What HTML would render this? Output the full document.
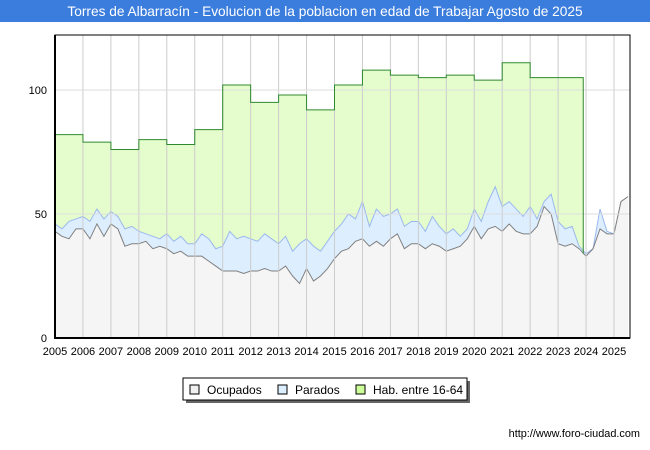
<!DOCTYPE html>
<html><head><meta charset="utf-8"><style>
body{margin:0;background:#fff;font-family:"Liberation Sans",sans-serif}
svg{display:block}
</style></head><body>
<svg id="c" width="650" height="450" xmlns="http://www.w3.org/2000/svg">
<rect x="0" y="0" width="650" height="22" fill="#3b7ddd"/>
<text x="325" y="16" text-anchor="middle" fill="#fff" font-size="13.7">Torres de Albarracín - Evolucion de la poblacion en edad de Trabajar Agosto de 2025</text>
<g id="plot"></g>
<text x="640" y="437" text-anchor="end" font-size="10.9" fill="#000">http://www.foro-ciudad.com</text>
</svg>
<script>
const years=[2005,2006,2007,2008,2009,2010,2011,2012,2013,2014,2015,2016,2017,2018,2019,2020,2021,2022,2023];
const hab=[82,79,76,80,78,84,102,95,98,92,102,108,106,105,106,104,111,105,105];
const parados=[46,44,47,48,49,47,52,48,51,49,44,45,43,42,41,40,42,39,41,38,38,42,40,36,37,43,40,41,40,39,42,40,38,41,35,38,40,37,35,39,43,46,50,48,55,45,52,49,50,52,45,47,47,43,49,45,42,44,41,44,52,47,55,61,53,55,52,49,53,48,55,58,47,44,45,37,34,36,52,43,42,55,57];
const ocupados=[43,41,40,44,44,40,46,41,46,44,37,38,38,39,36,37,36,34,35,33,33,33,31,29,27,27,27,26,27,27,28,27,27,29,25,22,28,23,25,28,32,35,36,39,40,37,39,37,40,42,36,38,38,36,38,37,35,36,37,40,45,40,44,45,43,46,43,42,42,45,53,50,38,37,38,36,33,36,44,42,42,55,57];
const yTicks=[0,50,100];
const L=55,R=630,T=35,B=338;
const X=t=>L+(t-2005)*27.95;
const Y=v=>B-v*2.48;
const NS="http://www.w3.org/2000/svg";
const g=document.getElementById('plot');
function mk(tag,attrs){const e=document.createElementNS(NS,tag);for(const k in attrs)e.setAttribute(k,attrs[k]);g.appendChild(e);return e;}
const tq=i=>2005+i*0.25;
const habEnd=2023.9;
let hp=`M${X(2005)},${B}`;
years.forEach((yr,i)=>{const x2=i<years.length-1?X(yr+1):X(habEnd);hp+=` L${X(yr)},${Y(hab[i])} L${x2},${Y(hab[i])}`;});
hp+=` L${X(habEnd)},${B} Z`;
let e=mk('path',{d:hp,fill:'#e5fdcc',stroke:'none'});

let hl=`M${X(2005)},${Y(hab[0])}`;
years.forEach((yr,i)=>{const x2=i<years.length-1?X(yr+1):X(habEnd);hl+=` L${X(yr)},${Y(hab[i])} L${x2},${Y(hab[i])}`;});
hl+=` L${X(habEnd)},${Y(34)}`;
function area(arr,fill,stroke,name){
 let d=`M${X(tq(0))},${B}`;arr.forEach((v,i)=>d+=` L${X(tq(i))},${Y(v)}`);d+=` L${X(tq(arr.length-1))},${B} Z`;
 let a=mk('path',{d:d,fill:fill});
 let l='';arr.forEach((v,i)=>l+=(i?' L':'M')+X(tq(i))+','+Y(v));
 let ln=mk('path',{d:l,fill:'none',stroke:stroke,'stroke-width':1});
}
area(parados,'#ddeeff','#9ab8ee','parados');
area(ocupados,'#f5f5f5','#808080','ocupados');
for(let yr=2005;yr<=2025;yr++){let l=mk('line',{x1:X(yr),x2:X(yr),y1:T,y2:B,stroke:'#ccc','stroke-width':1});

let t=mk('text',{x:X(yr),y:355,'text-anchor':'middle','font-size':11,fill:'#000'});t.textContent=yr;
}
yTicks.forEach(v=>{if(v>0){let l=mk('line',{x1:L,x2:R,y1:Y(v),y2:Y(v),stroke:'#ddd','stroke-width':1});}
let t=mk('text',{x:L-8,y:Y(v)+4,'text-anchor':'end','font-size':11});t.textContent=v;
});
e=mk('path',{d:hl,fill:'none',stroke:'#2f8a2f','stroke-width':1});

e=mk('rect',{x:L,y:T,width:R-L,height:B-T,fill:'none',stroke:'#000','stroke-width':1});

e=mk('path',{d:`M${L},${T} L${L},${B} L${R},${B}`,fill:'none',stroke:'#000','stroke-width':2});

e=mk('rect',{x:186,y:381,width:284,height:22,fill:'#666'});

e=mk('rect',{x:183,y:378,width:284,height:22,fill:'#fff',stroke:'#000','stroke-width':1});

const leg=[['Ocupados','#f0f0f0',190],['Parados','#ddeeff',278],['Hab. entre 16-64','#ccff99',356]];
leg.forEach(([n,c,x])=>{let s=mk('rect',{x:x,y:385,width:9,height:9,fill:c,stroke:'#000','stroke-width':1});

let t=mk('text',{x:x+17,y:394,'font-size':12});t.textContent=n;
});
</script>
</body></html>
